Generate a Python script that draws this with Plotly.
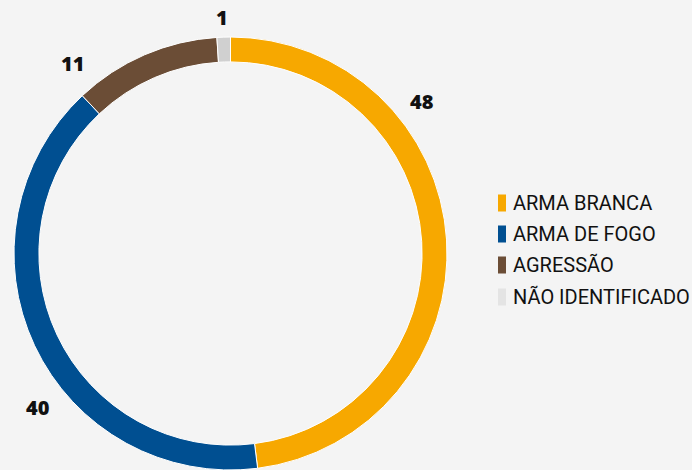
import plotly.graph_objects as go

categories = ["ARMA BRANCA", "ARMA DE FOGO", "AGRESSÃO", "NÃO IDENTIFICADO"]
values = [48, 40, 11, 1]
colors = ["#F7A800", "#004F91", "#6B4D36", "#D0D0D0"]
legend_colors = ["#F7A800", "#004F91", "#6B4D36", "#E4E4E4"]

W, H = 692, 470
BG = "#F4F4F4"

fig = go.Figure()
fig.add_trace(go.Pie(
    labels=categories,
    values=values,
    sort=False,
    direction="clockwise",
    rotation=0,
    hole=0.885,
    textinfo="none",
    hoverinfo="label+value",
    marker=dict(colors=colors, line=dict(color="#FFFFFF", width=1)),
    domain=dict(x=[14 / W, 447 / W], y=[0, 433 / H]),
    showlegend=False,
))

# value labels placed around the ring
label_pos = [(422, 102), (38, 407), (72, 64), (222, 17)]
annotations = []
for v, (px, py) in zip(values, label_pos):
    annotations.append(dict(
        x=px / W, y=1 - py / H, xref="paper", yref="paper",
        text=str(v), showarrow=False, xanchor="center", yanchor="middle",
        font=dict(family="Open Sans", size=20, color="#111111", weight=800),
    ))

# custom legend
shapes = []
row_y = [203, 234, 265, 297]
for cat, col, ry in zip(categories, legend_colors, row_y):
    shapes.append(dict(
        type="rect", xref="paper", yref="paper",
        x0=498 / W, x1=506 / W, y0=1 - (ry + 8.5) / H, y1=1 - (ry - 8.5) / H,
        fillcolor=col, line=dict(width=0),
    ))
    annotations.append(dict(
        x=511 / W, y=1 - ry / H, xref="paper", yref="paper",
        text=cat, showarrow=False, xanchor="left", yanchor="middle",
        font=dict(family="Roboto", size=20, color="#111111"),
    ))

fig.update_layout(
    width=W, height=H,
    margin=dict(l=0, r=0, t=0, b=0),
    paper_bgcolor=BG, plot_bgcolor=BG,
    annotations=annotations,
    shapes=shapes,
)

fig.write_html(
    "out.html",
    config={"displayModeBar": False},
    post_script="document.body.style.margin='0';document.body.style.background='#F4F4F4';document.body.style.overflow='hidden';",
)
